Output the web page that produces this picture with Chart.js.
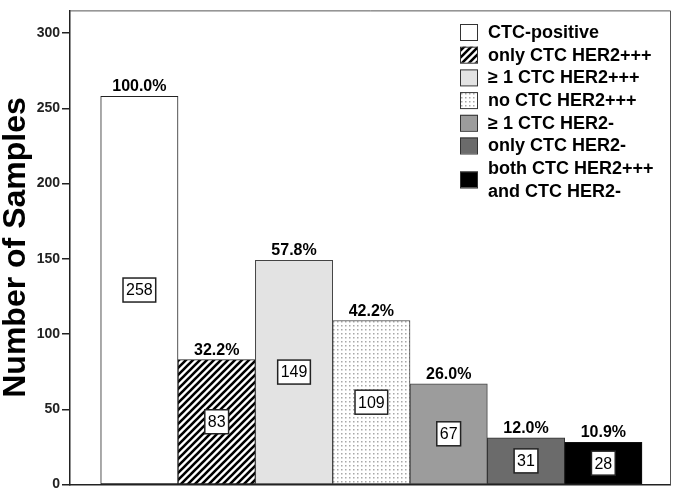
<!DOCTYPE html>
<html>
<head>
<meta charset="utf-8">
<script src="https://cdn.jsdelivr.net/npm/chart.js@4"></script>
<style>
  body { margin: 0; background: #fff; }
  #wrap { width: 675px; height: 495px; }
</style>
</head>
<body>
<div id="wrap"><canvas id="myChart"></canvas></div>
<script>
// Datos del grafico
const categories = ["CTC-positive", "only CTC HER2+++", "≥ 1 CTC HER2+++", "no CTC HER2+++", "≥ 1 CTC HER2-", "only CTC HER2-", "both CTC HER2+++ and CTC HER2-"];
const legendLabels = [["CTC-positive"], ["only CTC HER2+++"], ["≥ 1 CTC HER2+++"], ["no CTC HER2+++"], ["≥ 1 CTC HER2-"], ["only CTC HER2-"], ["both CTC HER2+++", "and CTC HER2-"]];
const sampleCounts = [258, 83, 149, 109, 67, 31, 28];
const percentLabels = ["100.0%", "32.2%", "57.8%", "42.2%", "26.0%", "12.0%", "10.9%"];
const yTicks = [0, 50, 100, 150, 200, 250, 300];

const FONT = "'Liberation Sans', Arial, sans-serif";

// Patrones de relleno (rayado y punteado)
function hatchPattern() {
  const c = document.createElement("canvas");
  c.width = 7; c.height = 7;
  const g = c.getContext("2d");
  g.fillStyle = "#fff";
  g.fillRect(0, 0, 7, 7);
  g.strokeStyle = "#000";
  g.lineWidth = 2.6;
  g.beginPath();
  g.moveTo(-1, 8); g.lineTo(8, -1);
  g.moveTo(-4.5, 4.5); g.lineTo(4.5, -4.5);
  g.moveTo(2.5, 11.5); g.lineTo(11.5, 2.5);
  g.stroke();
  return g.createPattern(c, "repeat");
}
function dotPattern() {
  const c = document.createElement("canvas");
  c.width = 4; c.height = 4;
  const g = c.getContext("2d");
  g.fillStyle = "#fff";
  g.fillRect(0, 0, 4, 4);
  g.fillStyle = "#a8a8a8";
  g.fillRect(1, 1, 1.5, 1.5);
  return g.createPattern(c, "repeat");
}

const fills = ["#ffffff", hatchPattern(), "#e3e3e3", dotPattern(), "#9c9c9c", "#6b6b6b", "#000000"];
const borders = ["#222", "#222", "#444", "#444", "#444", "#333", "#111"];

// Etiquetas sobre y dentro de las barras
const barLabels = {
  id: "barLabels",
  afterDatasetsDraw(chart) {
    const ctx = chart.ctx;
    const meta = chart.getDatasetMeta(0);
    ctx.save();
    meta.data.forEach((bar, i) => {
      ctx.textAlign = "center";
      ctx.textBaseline = "alphabetic";
      ctx.fillStyle = "#000";
      ctx.font = "bold 16px " + FONT;
      ctx.fillText(percentLabels[i], bar.x, bar.y - 5);

      const txt = String(sampleCounts[i]);
      ctx.font = "16px " + FONT;
      const w = ctx.measureText(txt).width + 6;
      const h = 24;
      const cy = (bar.y + bar.base) / 2;
      ctx.fillStyle = "#fff";
      ctx.fillRect(bar.x - w / 2, cy - h / 2, w, h);
      ctx.strokeStyle = "#222";
      ctx.lineWidth = 1.5;
      ctx.strokeRect(bar.x - w / 2, cy - h / 2, w, h);
      ctx.fillStyle = "#000";
      ctx.textBaseline = "middle";
      ctx.fillText(txt, bar.x, cy + 1);
    });
    ctx.restore();
  }
};

// Marco y leyenda dibujados a mano
const frameLegend = {
  id: "frameLegend",
  afterDraw(chart) {
    const ctx = chart.ctx;
    const a = chart.chartArea;
    ctx.save();
    ctx.strokeStyle = "#555";
    ctx.lineWidth = 1;
    ctx.beginPath();
    ctx.moveTo(a.left, a.top + 0.5);
    ctx.lineTo(a.right + 0.5, a.top + 0.5);
    ctx.lineTo(a.right + 0.5, a.bottom);
    ctx.stroke();

    let y = 32;
    const boxX = 460, textX = 488;
    ctx.font = "bold 18px " + FONT;
    ctx.textAlign = "left";
    ctx.textBaseline = "middle";
    legendLabels.forEach((lines, i) => {
      const cy = y + (lines.length - 1) * 22.7 / 2;
      ctx.fillStyle = fills[i];
      ctx.fillRect(boxX, cy - 8, 18, 16);
      ctx.strokeStyle = "#333";
      ctx.lineWidth = 1;
      ctx.strokeRect(boxX + 0.5, cy - 7.5, 17, 16);
      ctx.fillStyle = "#000";
      lines.forEach((ln, j) => ctx.fillText(ln, textX, y + j * 22.7 + 1));
      y += lines.length * 22.7;
    });
    ctx.restore();
  }
};

const ctx = document.getElementById("myChart");
new Chart(ctx, {
  type: "bar",
  data: {
    datasets: [{
      label: "Number of Samples",
      data: sampleCounts.map((v, i) => ({ x: i, y: v })),
      backgroundColor: fills,
      borderColor: borders,
      borderWidth: 1,
      borderSkipped: false,
      barPercentage: 1,
      categoryPercentage: 1
    }]
  },
  options: {
    responsive: true,
    maintainAspectRatio: false,
    animation: false,
    layout: { padding: { top: 3, right: 5, left: 0, bottom: 0 } },
    plugins: { legend: { display: false }, tooltip: { enabled: false } },
    scales: {
      x: {
        type: "linear",
        offset: false,
        min: -0.897,
        max: 6.862,
        afterBuildTicks: s => { s.ticks = categories.map((c, i) => ({ value: i })); },
        ticks: { display: false },
        grid: { display: false },
        border: { display: true, color: "#222", width: 1.5 },
        afterFit: s => { s.height = 9; }
      },
      y: {
        min: 0,
        max: 315,
        afterBuildTicks: s => { s.ticks = yTicks.map(v => ({ value: v })); },
        ticks: {
          color: "#222",
          padding: 2,
          font: { family: FONT, size: 14, weight: "bold" }
        },
        grid: { drawOnChartArea: false, tickLength: 8, color: "#222", lineWidth: 1.5 },
        border: { display: true, color: "#222", width: 1.5 },
        title: {
          display: true,
          text: "Number of Samples",
          color: "#000",
          padding: 0,
          font: { family: FONT, size: 32, weight: "bold", lineHeight: 1.0 }
        },
        afterFit: s => { s.width = 70; }
      }
    }
  },
  plugins: [barLabels, frameLegend]
});
</script>
</body>
</html>
